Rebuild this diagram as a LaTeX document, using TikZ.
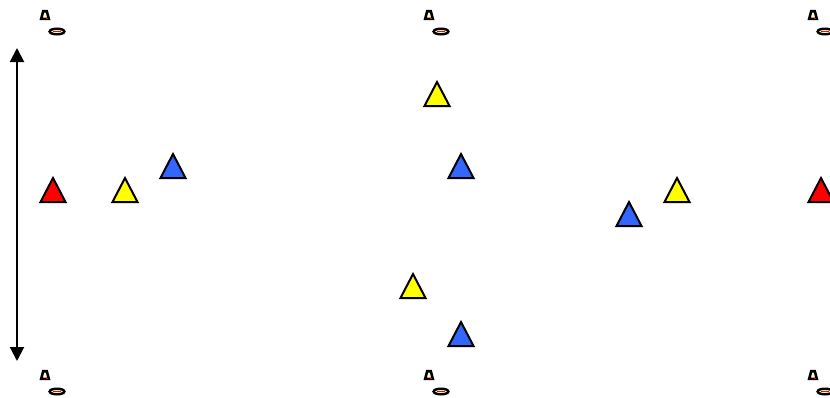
\documentclass[tikz,border=0pt]{standalone}
\usetikzlibrary{arrows.meta}
\definecolor{tred}{HTML}{FF0000}
\definecolor{tyellow}{HTML}{FFFF00}
\definecolor{tblue}{HTML}{3366FF}
\definecolor{conefill}{HTML}{FFFFCC}
\tikzset{
  player/.pic={
    \path[draw=black,line width=2pt,line join=miter,fill=#1]
      (-12.5,12) -- (0,-12) -- (12.5,12) -- cycle;
  },
  cone/.pic={
    \path[draw=black,line width=2.6pt,fill=conefill,line join=miter]
      (-3.8,3.8) -- (-1.8,-3.8) -- (1.8,-3.8) -- (3.8,3.8) -- cycle;
    \draw[tred,line width=0.9pt] (1.2,3.2) -- (2.6,3.2);
    \path[draw=black,line width=2.4pt,fill=conefill] (12,16.5) ellipse [x radius=7.4,y radius=2.8];
    \draw[tred,line width=0.9pt] (8,16.5) -- (16,16.5);
  }
}
\begin{document}
\begin{tikzpicture}[x=1pt,y=-1pt]
\useasboundingbox (0,0) rectangle (830,397);
% cones
\pic at (45,15) {cone};
\pic at (429,15) {cone};
\pic at (813,15) {cone};
\pic at (45,375) {cone};
\pic at (429,375) {cone};
\pic at (813,375) {cone};
% players
\pic at (53,190) {player=tred};
\pic at (125,190) {player=tyellow};
\pic at (173,166) {player=tblue};
\pic at (437,94) {player=tyellow};
\pic at (461,166) {player=tblue};
\pic at (413,286) {player=tyellow};
\pic at (461,334) {player=tblue};
\pic at (629,214) {player=tblue};
\pic at (677,190) {player=tyellow};
\pic at (821,190) {player=tred};
% arrow
\coordinate (atop) at (17,48);
\coordinate (abot) at (17,361);
\draw[line width=2pt,{Triangle[length=14pt,width=14pt]}-{Triangle[length=14pt,width=14pt]}] (atop) -- (abot);
\end{tikzpicture}
\end{document}
